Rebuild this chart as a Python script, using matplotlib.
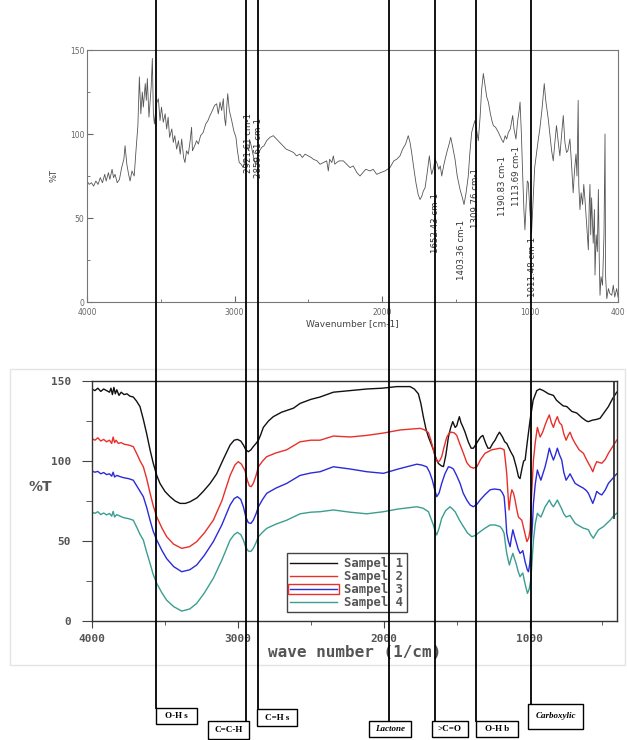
import matplotlib
matplotlib.use("Agg")
import matplotlib.pyplot as plt
import numpy as np
from matplotlib.lines import Line2D
from matplotlib.patches import Rectangle

# --- upper panel: single FTIR scan (wavenumber, %T) ---
top_scan = [
    (4000, 72), (3985, 70), (3970, 71), (3955, 69), (3940, 72), (3925, 70), (3910, 74), (3895, 71),
    (3880, 76), (3870, 72), (3855, 77), (3845, 73), (3830, 79), (3820, 74), (3810, 76), (3795, 71),
    (3780, 73), (3765, 80), (3750, 85), (3742, 93), (3730, 82), (3718, 76), (3708, 72), (3695, 78),
    (3680, 75), (3668, 90), (3655, 105), (3645, 134), (3635, 112), (3625, 125), (3618, 116), (3605, 130),
    (3598, 120), (3591, 133), (3580, 110), (3573, 118), (3565, 128), (3557, 145), (3550, 112), (3543, 106),
    (3530, 118), (3516, 121), (3505, 108), (3495, 116), (3483, 107), (3470, 112), (3460, 103), (3450, 110),
    (3440, 98), (3425, 103), (3415, 95), (3405, 99), (3392, 91), (3380, 96), (3368, 88), (3358, 97),
    (3345, 86), (3336, 83), (3325, 90), (3313, 88), (3302, 95), (3291, 104), (3285, 90), (3270, 93),
    (3257, 96), (3245, 94), (3230, 99), (3212, 101), (3195, 106), (3180, 108), (3166, 111), (3150, 114),
    (3135, 117), (3121, 118), (3110, 112), (3098, 119), (3087, 114), (3076, 121), (3068, 110), (3060, 105),
    (3052, 117), (3046, 124), (3035, 114), (3019, 108), (3005, 102), (2990, 98), (2980, 90), (2968, 83),
    (2955, 82), (2941, 80), (2930, 84), (2918, 93), (2905, 90), (2895, 96), (2884, 92), (2870, 86),
    (2858, 82), (2850, 84), (2840, 88), (2830, 90), (2816, 92), (2800, 93), (2782, 96), (2760, 98),
    (2737, 99), (2715, 97), (2692, 95), (2670, 93), (2650, 91), (2624, 90), (2600, 89), (2580, 87),
    (2556, 88), (2540, 86), (2522, 88), (2500, 87), (2480, 86), (2466, 85), (2440, 84), (2420, 82),
    (2398, 83), (2375, 84), (2364, 78), (2355, 85), (2340, 83), (2330, 87), (2320, 82), (2308, 83),
    (2290, 84), (2262, 84), (2240, 82), (2217, 80), (2195, 81), (2170, 77), (2149, 75), (2130, 77),
    (2110, 79), (2081, 78), (2060, 79), (2036, 76), (2010, 77), (1980, 78), (1946, 80), (1920, 84),
    (1900, 85), (1878, 87), (1860, 91), (1840, 94), (1822, 99), (1810, 95), (1799, 89), (1785, 80),
    (1770, 71), (1755, 64), (1742, 61), (1730, 63), (1720, 66), (1708, 68), (1695, 76), (1679, 87),
    (1670, 80), (1663, 76), (1650, 80), (1640, 85), (1629, 83), (1615, 79), (1605, 81), (1595, 75),
    (1580, 82), (1561, 89), (1545, 94), (1534, 98), (1520, 92), (1505, 85), (1490, 75), (1471, 67),
    (1455, 62), (1444, 58), (1430, 65), (1415, 75), (1405, 88), (1392, 101), (1380, 105), (1370, 108),
    (1358, 102), (1347, 96), (1335, 110), (1325, 126), (1313, 136), (1300, 128), (1290, 122), (1279, 119),
    (1265, 112), (1255, 108), (1245, 105), (1230, 104), (1211, 101), (1195, 98), (1185, 96), (1177, 95),
    (1165, 99), (1155, 97), (1143, 101), (1130, 103), (1120, 108), (1114, 111), (1105, 103), (1092, 97),
    (1080, 108), (1070, 114), (1064, 119), (1055, 100), (1046, 75), (1038, 55), (1031, 43), (1022, 60),
    (1015, 72), (1008, 71), (998, 55), (986, 41), (975, 62), (965, 80), (952, 89), (940, 97),
    (930, 103), (915, 115), (900, 130), (890, 120), (873, 109), (860, 98), (850, 90), (839, 84),
    (828, 95), (817, 105), (805, 95), (794, 87), (782, 100), (771, 111), (760, 95), (749, 89),
    (740, 90), (726, 97), (715, 82), (704, 65), (695, 78), (685, 88), (678, 75), (670, 120),
    (666, 70), (658, 55), (650, 65), (640, 58), (632, 70), (624, 61), (612, 45), (601, 31),
    (595, 58), (590, 70), (585, 40), (579, 62), (568, 35), (560, 55), (556, 16), (548, 40),
    (540, 30), (533, 67), (527, 25), (522, 4), (515, 15), (505, 10), (495, 40), (488, 100),
    (484, 15), (476, 2), (465, 8), (455, 5), (442, 4), (432, 10), (422, 3), (409, 8), (400, 3),
]

# peak labels on the upper scan: (wavenumber of label, %T where label starts, text)
peak_labels = [
    (2908, 77, "2921.61 cm-1"),
    (2834, 74, "2859.61 cm-1"),
    (1637, 29, "1652.43 cm-1"),
    (1458, 13, "1403.36 cm-1"),
    (1363, 44, "1309.76 cm-1"),
    (1180, 51, "1190.83 cm-1"),
    (1085, 57, "1113.69 cm-1"),
    (983, 3, "1011.48 cm-1"),
]

# --- lower panel: four samples ---
sampel1 = [
    (4000, 145), (3980, 144), (3960, 145.5), (3940, 143.5), (3920, 145), (3900, 144), (3880, 143),
    (3870, 145.5), (3860, 141.5), (3850, 146), (3840, 142), (3830, 144.5), (3815, 141), (3800, 143),
    (3780, 141.5), (3760, 142), (3740, 140.5), (3717, 140), (3695, 137.5), (3671, 134), (3648, 126),
    (3625, 117), (3602, 107), (3580, 98.6), (3556, 91), (3534, 86), (3500, 81), (3465, 77.7),
    (3430, 75), (3396, 73.5), (3360, 73.5), (3328, 74.5), (3280, 77), (3237, 81), (3190, 86),
    (3145, 92), (3100, 101), (3053, 110), (3025, 113), (3003, 113.5), (2980, 112.5), (2962, 110),
    (2945, 107), (2928, 105.8), (2910, 107), (2894, 109), (2875, 111), (2859, 113), (2845, 116),
    (2825, 121), (2790, 125), (2757, 127.7), (2700, 130.5), (2619, 133), (2573, 136), (2500, 138.5),
    (2436, 140), (2345, 143), (2230, 144), (2116, 145), (2010, 145.5), (1910, 146.5), (1860, 146.5),
    (1819, 146.5), (1790, 145), (1762, 142), (1745, 136), (1728, 127.7), (1710, 120), (1693, 115),
    (1676, 111), (1659, 107), (1642, 102), (1625, 98.5), (1605, 97), (1590, 96.5), (1573, 104),
    (1556, 115), (1540, 121), (1526, 124.6), (1510, 121), (1499, 122), (1490, 125), (1481, 127.7),
    (1470, 124), (1455, 121), (1442, 118), (1420, 112), (1400, 108), (1385, 108), (1370, 110),
    (1350, 113), (1335, 115), (1320, 116), (1300, 111), (1285, 108), (1270, 108), (1252, 111),
    (1236, 113), (1220, 116), (1206, 118), (1185, 115), (1170, 112), (1156, 111), (1130, 106),
    (1110, 102.7), (1090, 96), (1075, 90), (1065, 89), (1050, 96), (1040, 100), (1030, 100.6),
    (1015, 112), (996, 125.6), (975, 138), (950, 144), (930, 145), (905, 144), (870, 142),
    (836, 141), (815, 138), (790, 136), (770, 134.5), (744, 134), (710, 131), (676, 130),
    (640, 127), (610, 125), (596, 124.6), (570, 125.5), (540, 126), (516, 126.7), (490, 130),
    (459, 134), (430, 139), (402, 143),
]
sampel2 = [
    (4000, 114), (3980, 113), (3960, 114.5), (3940, 112.5), (3920, 113.5), (3900, 112), (3880, 113),
    (3865, 111), (3855, 115), (3845, 111.5), (3835, 113), (3820, 111), (3800, 111.5), (3780, 110.5),
    (3750, 110), (3717, 109), (3690, 104), (3670, 100), (3648, 96.4), (3625, 89), (3602, 80),
    (3580, 72), (3556, 65), (3520, 58), (3488, 52.7), (3440, 48), (3385, 45.4), (3330, 46.5),
    (3282, 49.6), (3230, 55), (3168, 63), (3110, 75), (3053, 91), (3020, 97.5), (2997, 99.6),
    (2975, 98), (2951, 94), (2935, 88), (2921, 84.4), (2908, 84), (2894, 86), (2875, 91),
    (2859, 96.4), (2830, 100), (2802, 102.7), (2740, 105), (2665, 107), (2573, 112), (2500, 113),
    (2436, 113), (2345, 115.6), (2230, 115), (2116, 116), (2000, 117.5), (1887, 119.4), (1800, 120),
    (1750, 120.4), (1720, 119.5), (1693, 117.7), (1676, 113), (1659, 107), (1645, 102), (1632, 99.6),
    (1617, 100), (1602, 102.7), (1585, 109), (1567, 115), (1550, 117.5), (1533, 118), (1515, 117.5),
    (1499, 116), (1475, 110), (1453, 104.8), (1430, 99), (1407, 96.4), (1385, 95.5), (1361, 96.4),
    (1335, 101), (1305, 104.8), (1280, 106), (1259, 107), (1230, 107.5), (1201, 108), (1185, 107.5),
    (1174, 107), (1165, 100), (1156, 92), (1148, 80), (1140, 69.4), (1130, 78), (1121, 82),
    (1110, 80), (1099, 75.6), (1088, 70), (1076, 65), (1065, 64), (1053, 63), (1035, 56),
    (1018, 49.6), (1005, 52), (996, 57), (985, 80), (973, 100.6), (960, 112), (946, 121),
    (937, 118), (927, 115), (910, 118), (893, 122.5), (878, 126), (864, 128.8), (850, 124),
    (836, 121), (822, 125), (809, 127.7), (795, 124), (779, 122.5), (765, 117), (749, 113),
    (735, 116), (722, 118), (705, 114), (687, 111), (660, 107), (630, 104.8), (610, 101),
    (596, 98.6), (580, 96), (566, 93.3), (552, 97), (539, 99.6), (520, 99), (504, 98.6),
    (480, 101), (459, 104.8), (430, 109), (402, 113),
]
sampel3 = [
    (4000, 93.7), (3980, 93), (3960, 93.5), (3940, 92), (3920, 92.8), (3900, 91.5), (3880, 92),
    (3865, 90.5), (3855, 93), (3845, 90), (3830, 91), (3800, 90), (3780, 89.5), (3750, 89),
    (3717, 88), (3690, 84), (3670, 81), (3648, 77.7), (3625, 71), (3602, 63), (3580, 56),
    (3556, 50.6), (3520, 44), (3488, 39), (3440, 34), (3385, 30.8), (3330, 32), (3282, 35),
    (3230, 41), (3168, 49.6), (3110, 60), (3053, 72.5), (3025, 76.5), (3003, 77.7), (2980, 76),
    (2962, 71.4), (2945, 65), (2928, 61.4), (2910, 61), (2894, 63), (2875, 67), (2859, 71.4),
    (2830, 76), (2802, 79.8), (2740, 83), (2665, 86), (2573, 91), (2500, 92.5), (2436, 93.3),
    (2345, 96.4), (2230, 95), (2116, 93.3), (2002, 92.3), (1900, 95), (1773, 98), (1740, 97.5),
    (1705, 96.4), (1685, 93), (1666, 88), (1650, 82), (1636, 77.7), (1620, 80), (1602, 86),
    (1580, 92), (1556, 96.4), (1540, 96), (1522, 95), (1500, 91), (1476, 86), (1455, 80),
    (1430, 75.6), (1407, 72.5), (1385, 71.4), (1360, 73), (1339, 75.6), (1305, 79), (1270, 82),
    (1240, 82.5), (1201, 82), (1185, 80), (1174, 77.7), (1165, 68), (1156, 54.8), (1145, 50),
    (1133, 46.4), (1124, 52), (1114, 57), (1103, 53), (1092, 49.6), (1078, 45), (1065, 42.3),
    (1055, 43), (1046, 44), (1030, 37), (1015, 32), (1007, 30.8), (998, 36), (989, 46.4),
    (980, 60), (973, 73.5), (960, 86), (946, 94.4), (934, 91), (922, 88), (908, 92),
    (893, 96.4), (878, 102), (864, 108), (850, 104), (836, 100.6), (822, 104), (809, 108),
    (795, 104), (779, 100.6), (765, 93), (749, 88), (735, 90), (722, 92), (705, 89),
    (687, 86), (660, 84.5), (630, 83), (610, 81.5), (596, 79.8), (580, 76.5), (566, 73.5),
    (552, 77), (539, 81), (520, 79.5), (504, 78.8), (480, 82), (459, 86), (430, 89), (402, 92),
]
sampel4 = [
    (4000, 68), (3980, 67.3), (3960, 68.3), (3940, 66.5), (3920, 67.5), (3900, 66.3), (3880, 67.2),
    (3865, 65.5), (3855, 68.5), (3845, 65), (3830, 66.5), (3800, 65.2), (3780, 64.5), (3750, 64),
    (3717, 63), (3690, 58), (3670, 54), (3648, 50.6), (3625, 43), (3602, 36), (3580, 29),
    (3556, 23.5), (3520, 17.5), (3488, 13), (3440, 9), (3385, 6.2), (3330, 7.5), (3282, 11),
    (3230, 17.5), (3168, 26.7), (3110, 38), (3053, 50.6), (3025, 54), (3003, 55.4), (2980, 54),
    (2962, 50.6), (2945, 46), (2928, 43.7), (2910, 43.5), (2894, 45.4), (2875, 49), (2859, 52.7),
    (2830, 55.5), (2802, 57.9), (2740, 60.5), (2665, 63), (2573, 67), (2500, 68), (2436, 68.3),
    (2345, 69.4), (2230, 68), (2116, 67), (2002, 68.3), (1900, 70), (1773, 71.4), (1730, 70.5),
    (1693, 68.3), (1675, 64), (1659, 60), (1647, 56), (1636, 53.8), (1620, 58), (1602, 64.2),
    (1575, 69), (1545, 71.4), (1528, 70), (1510, 68.3), (1480, 63), (1453, 59), (1425, 55),
    (1396, 52.7), (1370, 53.5), (1339, 55.8), (1305, 58), (1270, 60), (1235, 60), (1201, 59),
    (1185, 57), (1174, 54.8), (1165, 48), (1156, 42.3), (1146, 38), (1138, 35), (1126, 39),
    (1114, 42.3), (1103, 39), (1092, 36), (1078, 31), (1065, 27.7), (1055, 29), (1046, 30),
    (1030, 23), (1014, 17.3), (1002, 20), (991, 25.6), (982, 38), (973, 50.6), (960, 61),
    (946, 67.3), (934, 66), (922, 65), (908, 68), (893, 71.4), (878, 73.5), (864, 75.6),
    (850, 73), (836, 71.4), (822, 73.5), (809, 75.6), (795, 73), (779, 70), (765, 67),
    (749, 65), (735, 65.5), (722, 66), (705, 63.5), (687, 61), (660, 59.5), (630, 58),
    (610, 57.5), (596, 57), (580, 54), (562, 51.7), (545, 54.5), (527, 57), (510, 58),
    (493, 59), (470, 61), (447, 63), (425, 65.5), (402, 67.3),
]
samples = [sampel1, sampel2, sampel3, sampel4]
sample_names = ["Sampel 1", "Sampel 2", "Sampel 3", "Sampel 4"]
sample_colors = ["#111111", "#e8302a", "#2b2bd9", "#3a9e90"]

# band assignments: wavenumber of guide line, label, italic?
bands = [
    (3561, "O-H s", False),
    (2944, "C=C-H", False),
    (2862, "C=H s", False),
    (1963, "Lactone", True),
    (1647, ">C=O", False),
    (1366, "O-H b", False),
    (989, "Carboxylic", True),
]
# label boxes in pixels (left, top, width, height)
band_boxes = [
    (156, 708, 41, 16),
    (208, 721, 41, 18),
    (257, 709, 40, 17),
    (369, 721, 42, 16),
    (432, 721, 36, 16),
    (476, 721, 42, 16),
    (528, 704, 55, 25),
]

W, H = 627, 740
fig = plt.figure(figsize=(W / 100, H / 100), dpi=100)

# ---------- upper panel ----------
ax1 = fig.add_axes([87 / W, 1 - 302 / H, 531 / W, 252 / H])
wn, t = np.array(top_scan).T
ax1.plot(wn, t, color="#555555", lw=0.6)
ax1.set_xlim(4000, 400)
ax1.set_ylim(0, 150)
ax1.set_xticks([4000, 3000, 2000, 1000, 400])
ax1.set_xticks([3500, 2500, 1500], minor=True)
ax1.set_yticks([0, 50, 100, 150])
ax1.set_yticks([25, 75, 125], minor=True)
ax1.tick_params(which="both", direction="in", labelsize=5.5, colors="#666666", pad=2)
ax1.tick_params(axis="x", which="major", pad=4)
ax1.tick_params(which="major", length=4)
ax1.tick_params(which="minor", length=2)
for s in ax1.spines.values():
    s.set_color("#777777")
    s.set_linewidth(0.8)
ax1.set_xlabel("Wavenumber [cm-1]", fontsize=6.5, color="#444444", labelpad=2)
ax1.set_ylabel("%T", fontsize=6, color="#444444", labelpad=8)
for x, y, txt in peak_labels:
    ax1.text(x, y, txt, rotation=90, ha="center", va="bottom", fontsize=6.2, color="#333333")

# ---------- lower panel ----------
ax2 = fig.add_axes([92 / W, 1 - 621 / H, 525 / W, 240 / H])
for data, name, col in zip(samples, sample_names, sample_colors):
    x, y = np.array(data).T
    ax2.plot(x, y, color=col, lw=1.0, label=name)
ax2.set_xlim(4000, 400)
ax2.set_ylim(0, 150)
ax2.set_xticks([4000, 3000, 2000, 1000])
ax2.set_xticks([3500, 2500, 1500, 500], minor=True)
ax2.set_yticks([0, 50, 100, 150])
ax2.set_yticks([25, 75, 125], minor=True)
ax2.tick_params(which="both", direction="out", colors="#444444", labelsize=8, pad=4)
ax2.tick_params(axis="y", which="major", length=7, pad=8)
ax2.tick_params(axis="y", which="minor", length=4)
ax2.tick_params(axis="x", which="major", length=5)
ax2.tick_params(axis="x", which="minor", length=3)
for lab in ax2.get_xticklabels() + ax2.get_yticklabels():
    lab.set_fontfamily("DejaVu Sans Mono")
    lab.set_fontweight("bold")
    lab.set_color("#555555")
for s in ax2.spines.values():
    s.set_color("#333333")
    s.set_linewidth(1.0)
ax2.set_xlabel("wave number (1/cm)", fontsize=11.5, family="DejaVu Sans Mono",
               fontweight="bold", color="#555555", labelpad=1)
ax2.set_ylabel("%T", fontsize=10, fontweight="bold", color="#555555", rotation=0)
ax2.yaxis.set_label_coords(-0.098, 0.53)
ax2.axvline(420, ymin=0.43, ymax=1, color="#333333", lw=1.3)

leg = ax2.legend(loc="upper left", bbox_to_anchor=(0.371, 0.283), borderaxespad=0,
                 prop={"family": "DejaVu Sans Mono", "weight": "bold", "size": 8.8},
                 frameon=True, fancybox=False, edgecolor="#444444", framealpha=1,
                 handlelength=3.8, handleheight=0.5, handletextpad=0.6,
                 labelspacing=0.0, borderpad=0.3)
leg.get_frame().set_linewidth(1.0)
for txt in leg.get_texts():
    txt.set_color("#555555")

# faint frame around the lower panel
fig.add_artist(Rectangle((10 / W, 1 - 665 / H), 615 / W, 296 / H, transform=fig.transFigure,
                         fc="none", ec="#e4e4e4", lw=1))

# ---------- band guide lines and boxes ----------
inv = fig.transFigure.inverted()
for (b_wn, b_lab, b_it), (bx, by, bw, bh) in zip(bands, band_boxes):
    xf = inv.transform(ax2.transData.transform((b_wn, 0)))[0]
    fig.add_artist(Line2D([xf, xf], [1.0, 1 - by / H], color="black", lw=1.3, zorder=20))
    fig.add_artist(Rectangle((bx / W, 1 - (by + bh) / H), bw / W, bh / H, transform=fig.transFigure,
                             fc="white", ec="black", lw=1.0, zorder=21))
    fig.text((bx + bw / 2) / W, 1 - (by + bh / 2) / H, b_lab, ha="center", va="center",
             fontsize=6.5, family="Liberation Serif", fontweight="bold",
             fontstyle="italic" if b_it else "normal", zorder=22)

# red selection box around the third legend handle
fig.canvas.draw()
hb = leg.legend_handles[2].get_window_extent()
x0, y0 = inv.transform((hb.x0 - 2, hb.y0 - 5))
x1, y1 = inv.transform((hb.x1 + 2, hb.y1 + 5))
fig.add_artist(Rectangle((x0, y0), x1 - x0, y1 - y0, transform=fig.transFigure,
                         fc="none", ec="#e8302a", lw=1.0, zorder=15))

fig.savefig("out.png", dpi=100)
